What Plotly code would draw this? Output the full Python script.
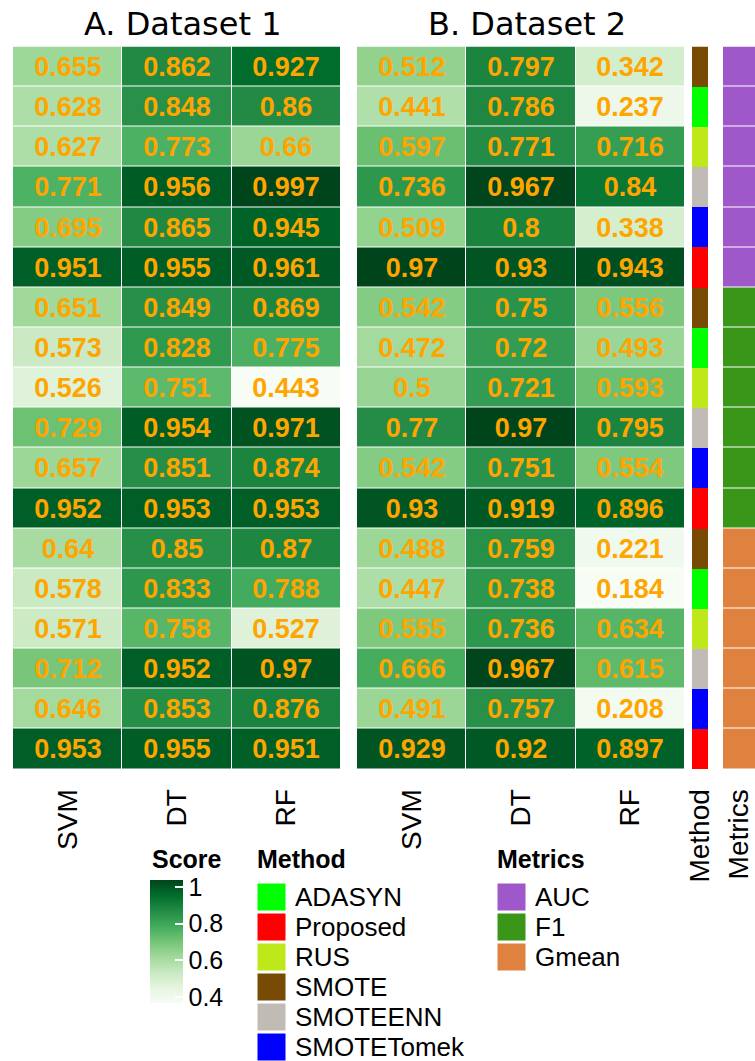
import plotly.graph_objects as go

# ---------------- data ----------------
models = ["SVM", "DT", "RF"]
methods_block = ["SMOTE", "ADASYN", "RUS", "SMOTEENN", "SMOTETomek", "Proposed"]
metric_names = ["AUC", "F1", "Gmean"]

ds1_svm = [0.655, 0.628, 0.627, 0.771, 0.695, 0.951, 0.651, 0.573, 0.526, 0.729, 0.657, 0.952, 0.64, 0.578, 0.571, 0.712, 0.646, 0.953]
ds1_dt = [0.862, 0.848, 0.773, 0.956, 0.865, 0.955, 0.849, 0.828, 0.751, 0.954, 0.851, 0.953, 0.85, 0.833, 0.758, 0.952, 0.853, 0.955]
ds1_rf = [0.927, 0.86, 0.66, 0.997, 0.945, 0.961, 0.869, 0.775, 0.443, 0.971, 0.874, 0.953, 0.87, 0.788, 0.527, 0.97, 0.876, 0.951]

ds2_svm = [0.512, 0.441, 0.597, 0.736, 0.509, 0.97, 0.542, 0.472, 0.5, 0.77, 0.542, 0.93, 0.488, 0.447, 0.555, 0.666, 0.491, 0.929]
ds2_dt = [0.797, 0.786, 0.771, 0.967, 0.8, 0.93, 0.75, 0.72, 0.721, 0.97, 0.751, 0.919, 0.759, 0.738, 0.736, 0.967, 0.757, 0.92]
ds2_rf = [0.342, 0.237, 0.716, 0.84, 0.338, 0.943, 0.556, 0.493, 0.593, 0.795, 0.554, 0.896, 0.221, 0.184, 0.634, 0.615, 0.208, 0.897]

row_methods = methods_block * 3
row_metrics = [m for m in metric_names for _ in range(6)]

legend_methods = ["ADASYN", "Proposed", "RUS", "SMOTE", "SMOTEENN", "SMOTETomek"]
method_colors = {"ADASYN": "#00FF00", "Proposed": "#FF0000", "RUS": "#BFE81A",
                 "SMOTE": "#784B04", "SMOTEENN": "#C0BCB5", "SMOTETomek": "#0000FF"}
metric_colors = {"AUC": "#9E58C9", "F1": "#3A9619", "Gmean": "#E0823F"}

score_ticks = [0.4, 0.6, 0.8, 1]

greens = ["#f7fcf5", "#e5f5e0", "#c7e9c0", "#a1d99b", "#74c476",
          "#41ab5d", "#238b45", "#006d2c", "#00441b"]
green_scale = [[i / 8, c] for i, c in enumerate(greens)]

W, H = 755, 1061
def px(x): return x / W
def py(y): return 1 - y / H

rows = list(range(18))

def matrix(cols):
    return [[c[r] for c in cols] for r in rows]

z1 = matrix([ds1_svm, ds1_dt, ds1_rf])
z2 = matrix([ds2_svm, ds2_dt, ds2_rf])

cell_font = dict(family="Liberation Sans", size=27, color="#FFA500", weight="bold")

fig = go.Figure()
fig.add_trace(go.Heatmap(z=z1, x=models, y=rows, coloraxis="coloraxis",
                         text=[[str(v) for v in r] for r in z1], texttemplate="%{text}",
                         textfont=cell_font, xgap=1, ygap=1, xaxis="x", yaxis="y"))
fig.add_trace(go.Heatmap(z=z2, x=models, y=rows, coloraxis="coloraxis2",
                         text=[[str(v) for v in r] for r in z2], texttemplate="%{text}",
                         textfont=cell_font, xgap=1, ygap=1, xaxis="x2", yaxis="y2"))

def discrete_scale(colors):
    n = len(colors)
    sc = []
    for i, c in enumerate(colors):
        sc.append([i / n, c])
        sc.append([(i + 1) / n, c])
    return sc

mz = [[legend_methods.index(m)] for m in row_methods]
fig.add_trace(go.Heatmap(z=mz, x=["Method"], y=rows, zmin=-0.5, zmax=len(legend_methods) - 0.5,
                         colorscale=discrete_scale([method_colors[m] for m in legend_methods]),
                         showscale=False, xaxis="x3", yaxis="y3", hoverinfo="skip"))
kz = [[metric_names.index(m)] for m in row_metrics]
fig.add_trace(go.Heatmap(z=kz, x=["Metrics"], y=rows, zmin=-0.5, zmax=len(metric_names) - 0.5,
                         colorscale=discrete_scale([metric_colors[m] for m in metric_names]),
                         showscale=False, ygap=1, xaxis="x4", yaxis="y4", hoverinfo="skip"))

# dummy trace carrying the legend colour bar
fig.add_trace(go.Scatter(x=[None], y=[None], mode="markers",
                         marker=dict(color=[score_ticks[0]], coloraxis="coloraxis3"),
                         xaxis="x", yaxis="y", showlegend=False))

top, bottom = 46.5, 769
xdoms = [(13, 341), (357, 685), (692, 708), (723, 755)]
tickfont = dict(family="Liberation Sans", size=28, color="black")
layout = dict(width=W, height=H, margin=dict(l=0, r=0, t=0, b=0, autoexpand=False),
              paper_bgcolor="white", plot_bgcolor="white", showlegend=False)
for i, (a, b) in enumerate(xdoms):
    sfx = "" if i == 0 else str(i + 1)
    layout["xaxis" + sfx] = dict(domain=[px(a), px(b)], anchor="y" + sfx, tickangle=-90,
                                 tickfont=tickfont, ticks="outside", ticklen=8,
                                 tickcolor="rgba(0,0,0,0)", showgrid=False, zeroline=False,
                                 showline=False, fixedrange=True, automargin=False)
    layout["yaxis" + sfx] = dict(domain=[py(bottom), py(top)], anchor="x" + sfx,
                                 range=[17.5, -0.5], visible=False, fixedrange=True,
                                 automargin=False)

layout["coloraxis"] = dict(colorscale=green_scale, cmin=min(min(r) for r in z1),
                           cmax=max(max(r) for r in z1), showscale=False)
layout["coloraxis2"] = dict(colorscale=green_scale, cmin=min(min(r) for r in z2),
                            cmax=max(max(r) for r in z2), showscale=False)
cb_top, cb_bot = 880, 1003
layout["coloraxis3"] = dict(colorscale=green_scale, cmin=0.367, cmax=1.038, showscale=True,
                            colorbar=dict(x=px(150), xanchor="left", y=py(cb_bot), yanchor="bottom",
                                          len=(cb_bot - cb_top) / H, lenmode="fraction",
                                          thickness=33, thicknessmode="pixels", outlinewidth=0,
                                          ticks="inside", ticklen=8, tickcolor="white", tickwidth=1.5,
                                          tickvals=score_ticks, ticktext=["0.4", "0.6", "0.8", "1"],
                                          tickfont=dict(family="Liberation Sans", size=25, color="black"),
                                          xpad=0, ypad=0))
fig.update_layout(**layout)

annotations = []
def note(text, x, y, font, xanchor="left"):
    annotations.append(dict(text=text, x=px(x), y=py(y), xref="paper", yref="paper",
                            xanchor=xanchor, yanchor="middle", showarrow=False, font=font))

title_font = dict(family="DejaVu Sans", size=32, color="black")
note("A. Dataset 1", 183, 24, title_font, "center")
note("B. Dataset 2", 527, 24, title_font, "center")

legfont = dict(family="Liberation Sans", size=26, color="black")
titlefont = dict(family="Liberation Sans", size=25, color="black", weight="bold")
note("Score", 150, 859, titlefont)
note("Method", 255, 859, titlefont)
note("Metrics", 495, 859, titlefont)

shapes = []
def legend_block(names, colors, x0):
    for i, n in enumerate(names):
        y0 = 883 + 30 * i
        shapes.append(dict(type="rect", xref="paper", yref="paper", x0=px(x0), x1=px(x0 + 29),
                           y0=py(y0 + 28), y1=py(y0), fillcolor=colors[n],
                           line=dict(color="white", width=1)))
        note(n, x0 + 36, y0 + 14, legfont)

legend_block(legend_methods, method_colors, 257)
legend_block(metric_names, metric_colors, 497)

# left-side white dashes on the colour bar
for v in score_ticks:
    yy = cb_bot - (v - 0.367) / (1.038 - 0.367) * (cb_bot - cb_top)
    shapes.append(dict(type="line", xref="paper", yref="paper", x0=px(150), x1=px(158),
                       y0=py(yy), y1=py(yy), line=dict(color="white", width=1.5)))

fig.update_layout(annotations=annotations, shapes=shapes)
fig.write_html("out.html")
